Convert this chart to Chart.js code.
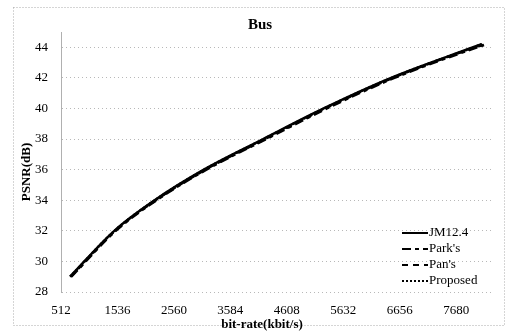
<!DOCTYPE html>
<html>
<head>
<meta charset="utf-8">
<script src="https://cdn.jsdelivr.net/npm/chart.js@4/dist/chart.umd.min.js"></script>
<style>
html,body{margin:0;padding:0;background:#fff;}
#wrap{width:508px;height:333px;position:relative;}
</style>
</head>
<body>
<div id="wrap"><canvas id="c" width="508" height="333"></canvas></div>
<script>
const chartTitle = "Bus";
const xTitle = "bit-rate(kbit/s)";
const yTitle = "PSNR(dB)";
const seriesNames = ["JM12.4", "Park's", "Pan's", "Proposed"];
const xTickLabels = [512, 1536, 2560, 3584, 4608, 5632, 6656, 7680];
const yTickLabels = [28, 30, 32, 34, 36, 38, 40, 42, 44];

const jmRate   = [676, 1479, 2210, 3104, 4181, 5276, 6500, 7990, 8140];
const jmPsnr   = [29.0, 32.0, 34.0, 36.0, 38.0, 40.0, 42.0, 44.0, 44.2];
const parkRate = [700, 1505, 2245, 3150, 4235, 5335, 6560, 8060, 8185];
const parkPsnr = [29.0, 32.0, 34.0, 36.0, 38.0, 40.0, 42.0, 44.0, 44.15];
const panRate  = [690, 1492, 2230, 3130, 4212, 5305, 6530, 8030, 8165];
const panPsnr  = [29.0, 32.0, 34.0, 36.0, 38.0, 40.0, 42.0, 44.0, 44.15];
const propRate = [680, 1484, 2216, 3110, 4190, 5285, 6510, 8000, 8150];
const propPsnr = [29.0, 32.0, 34.0, 36.0, 38.0, 40.0, 42.0, 44.0, 44.2];

const dashes = [[], [9, 4, 4, 4], [6, 5], [2, 2]];
const rates = [jmRate, parkRate, panRate, propRate];
const psnrs = [jmPsnr, parkPsnr, panPsnr, propPsnr];

const FONT = "'Liberation Serif', 'Times New Roman', serif";

const datasets = seriesNames.map((name, i) => ({
  label: name,
  data: rates[i].map((r, k) => ({x: r, y: psnrs[i][k]})),
  borderColor: '#000',
  backgroundColor: '#000',
  borderWidth: 2.5,
  borderDash: dashes[i],
  pointRadius: 0,
  cubicInterpolationMode: 'monotone',
  fill: false
}));

const decor = {
  id: 'decor',
  beforeDraw(chart) {
    const ctx = chart.ctx;
    ctx.save();
    ctx.fillStyle = '#fff';
    ctx.fillRect(0, 0, chart.width, chart.height);
    ctx.strokeStyle = '#aaa';
    ctx.lineWidth = 1;
    ctx.setLineDash([1, 2]);
    ctx.strokeRect(13.5, 7.5, 491, 318);
    ctx.restore();
  },
  afterDraw(chart) {
    const ctx = chart.ctx;
    ctx.save();
    ctx.fillStyle = '#000';
    ctx.textAlign = 'center';
    ctx.textBaseline = 'middle';
    ctx.font = "bold 15px " + FONT;
    ctx.fillText(chartTitle, 260, 25);
    ctx.font = "bold 13px " + FONT;
    ctx.fillText(xTitle, 262, 325);
    ctx.save();
    ctx.translate(27, 172);
    ctx.rotate(-Math.PI / 2);
    ctx.fillText(yTitle, 0, 0);
    ctx.restore();
    // legend
    ctx.font = "13px " + FONT;
    ctx.textAlign = 'left';
    chart.data.datasets.forEach((ds, i) => {
      const y = 233 + i * 16;
      ctx.beginPath();
      ctx.setLineDash(ds.borderDash);
      ctx.lineWidth = 2;
      ctx.strokeStyle = '#000';
      ctx.moveTo(402, y);
      ctx.lineTo(428, y);
      ctx.stroke();
      ctx.setLineDash([]);
      ctx.fillText(ds.label, 429, y);
    });
    ctx.restore();
  }
};

new Chart(document.getElementById('c'), {
  type: 'line',
  data: { datasets },
  options: {
    responsive: false,
    animation: false,
    layout: { padding: { left: 0, right: 16, top: 32, bottom: 0 } },
    plugins: {
      legend: { display: false },
      tooltip: { enabled: false },
      title: { display: false }
    },
    scales: {
      x: {
        type: 'linear',
        min: 512,
        max: 8330,
        afterBuildTicks(scale) { scale.ticks = xTickLabels.map(v => ({value: v})); },
        afterFit(scale) { scale.height = 41; },
        ticks: {
          color: '#000',
          font: { family: FONT, size: 13 },
          padding: 11,
          maxRotation: 0,
          autoSkip: false,
          callback: v => String(v)
        },
        grid: { display: false, drawTicks: false },
        border: { display: false }
      },
      y: {
        type: 'linear',
        min: 28,
        max: 45,
        afterBuildTicks(scale) { scale.ticks = yTickLabels.map(v => ({value: v})); },
        afterFit(scale) { scale.width = 61; },
        ticks: {
          color: '#000',
          font: { family: FONT, size: 13 },
          padding: 13,
          callback: v => String(v)
        },
        grid: { color: '#b8b8b8', lineWidth: 1, drawTicks: false },
        border: { display: true, color: '#b0b0b0', dash: [1, 3] }
      }
    }
  },
  plugins: [decor]
});
</script>
</body>
</html>
